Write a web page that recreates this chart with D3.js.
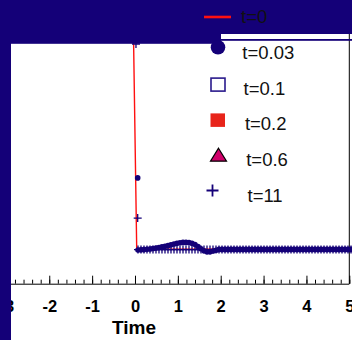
<!DOCTYPE html>
<html>
<head>
<meta charset="utf-8">
<script src="https://cdn.jsdelivr.net/npm/d3@7"></script>
<style>
  html, body { margin: 0; padding: 0; background: #fff; }
  svg { display: block; }
</style>
</head>
<body>
<div id="chart"></div>
<script>
// time grid the dense series were sampled on
const gridTimes = [
  0.07,0.14,0.21,0.28,0.35,0.42,0.49,0.56,0.63,0.70,
  0.77,0.84,0.91,0.98,1.05,1.12,1.19,1.26,1.33,1.40,
  1.47,1.54,1.61,1.68,1.75,1.82,1.89,1.96,2.03,2.10,
  2.17,2.24,2.31,2.38,2.45,2.52,2.59,2.66,2.73,2.80,
  2.87,2.94,3.01,3.08,3.15,3.22,3.29,3.36,3.43,3.50,
  3.57,3.64,3.71,3.78,3.85,3.92,3.99,4.06,4.13,4.20,
  4.27,4.34,4.41,4.48,4.55,4.62,4.69,4.76,4.83,4.90,
  4.97,5.04
];

const t0Times = [-0.05, 0.04, 0.1, 5.1];
const t0Values = [1.25, 0.01, 0.004, 0.005];

const t003Times = [0.063].concat(gridTimes);
const t003Values = [
  0.35,
  0.000,0.001,0.002,0.004,0.005,0.007,0.010,0.012,0.015,0.018,
  0.021,0.025,0.029,0.033,0.035,0.037,0.037,0.036,0.033,0.027,
  0.017,0.006,-0.004,-0.009,-0.009,-0.005,-0.001,0.003,0.003,0.003,
  0.003,0.003,0.003,0.003,0.003,0.003,0.003,0.003,0.003,0.003,
  0.003,0.003,0.003,0.003,0.003,0.003,0.003,0.003,0.003,0.003,
  0.003,0.003,0.003,0.003,0.003,0.003,0.003,0.003,0.003,0.003,
  0.003,0.003,0.003,0.003,0.003,0.003,0.003,0.003,0.003,0.003,
  0.003,0.003
];

// t=0.1, 0.2, 0.6 have no marks showing in the plot
const t01Times = [], t01Values = [];
const t02Times = [], t02Values = [];
const t06Times = [], t06Values = [];

const t11Times = [0.023, 0.063].concat(gridTimes);
const t11Values = [
  1.0, 0.155,
  0.002,0.002,0.002,0.002,0.002,0.002,0.002,0.002,0.002,0.002,
  0.002,0.002,0.002,0.002,0.002,0.002,0.002,0.002,0.002,0.002,
  0.002,0.002,0.002,0.002,0.002,0.002,0.002,0.002,0.002,0.002,
  0.002,0.002,0.002,0.002,0.002,0.002,0.002,0.002,0.002,0.002,
  0.002,0.002,0.002,0.002,0.002,0.002,0.002,0.002,0.002,0.002,
  0.002,0.002,0.002,0.002,0.002,0.002,0.002,0.002,0.002,0.002,
  0.002,0.002,0.002,0.002,0.002,0.002,0.002,0.002,0.002,0.002,
  0.002,0.002
];

const legendLabels = ["t=0", "t=0.03", "t=0.1", "t=0.2", "t=0.6", "t=11"];
const xLabel = "Time";

const navy = "#140078";
const width = 352, height = 340;

const svg = d3.select("#chart").append("svg")
    .attr("width", width)
    .attr("height", height);

const x = d3.scaleLinear().domain([-3, 5]).range([6.4, 349.3]);
const y = d3.scaleLinear().domain([0, 1]).range([250, 44]);

const pts = (ts, vs) => ts.map((t, i) => ({t: t, v: vs[i]}));

// minor ticks
svg.append("g")
    .attr("transform", "translate(0,283.7)")
    .call(d3.axisBottom(x).tickValues(d3.range(-3, 5.01, 0.2)).tickSize(-4).tickFormat(""))
    .call(g => g.select(".domain").remove())
    .call(g => g.selectAll("line").attr("stroke", "#000"));

// major ticks + labels
const xAxis = svg.append("g")
    .attr("transform", "translate(0,283.7)")
    .call(d3.axisBottom(x).ticks(8).tickSize(-8).tickSizeOuter(0).tickPadding(16.5).tickFormat(d3.format("d")));
xAxis.select(".domain").attr("stroke", "#000").attr("d", "M11,0.5H349.3");
xAxis.selectAll("line").attr("stroke", "#000");
xAxis.selectAll("text")
    .attr("fill", "#000")
    .style("font-family", "'Liberation Sans', Arial, sans-serif")
    .style("font-weight", "bold")
    .style("font-size", "16.5px")
    .text(d => d < 0 ? "-" + Math.abs(d) : d);

svg.append("text")
    .attr("x", 134)
    .attr("y", 334)
    .attr("text-anchor", "middle")
    .style("font-family", "'Liberation Sans', Arial, sans-serif")
    .style("font-weight", "bold")
    .style("font-size", "19px")
    .text(xLabel);

// right border
svg.append("line")
    .attr("x1", 349.3).attr("x2", 349.3)
    .attr("y1", 34).attr("y2", 284)
    .attr("stroke", "#000").attr("stroke-width", 1);

// t=0 line
svg.append("path")
    .datum(pts(t0Times, t0Values))
    .attr("fill", "none")
    .attr("stroke", "#ff1010")
    .attr("stroke-width", 1.4)
    .attr("d", d3.line().x(d => x(d.t)).y(d => y(d.v)));

// t=0.03 circles
svg.append("g").selectAll("circle")
    .data(pts(t003Times, t003Values))
    .join("circle")
    .attr("cx", d => x(d.t))
    .attr("cy", d => y(d.v))
    .attr("r", 2.8)
    .attr("fill", navy);

// t=0.1 open squares
svg.append("g").selectAll("rect")
    .data(pts(t01Times, t01Values))
    .join("rect")
    .attr("x", d => x(d.t) - 3).attr("y", d => y(d.v) - 3)
    .attr("width", 6).attr("height", 6)
    .attr("fill", "#fff").attr("stroke", "#2a1a8c");

// t=0.2 filled squares
svg.append("g").selectAll("rect")
    .data(pts(t02Times, t02Values))
    .join("rect")
    .attr("x", d => x(d.t) - 3).attr("y", d => y(d.v) - 3)
    .attr("width", 6).attr("height", 6)
    .attr("fill", "#e8241a");

// t=0.6 triangles
svg.append("g").selectAll("path")
    .data(pts(t06Times, t06Values))
    .join("path")
    .attr("transform", d => `translate(${x(d.t)},${y(d.v)})`)
    .attr("d", d3.symbol(d3.symbolTriangle, 30))
    .attr("fill", "#d0006a").attr("stroke", "#000");

// t=11 plus markers
svg.append("g").selectAll("path")
    .data(pts(t11Times, t11Values))
    .join("path")
    .attr("d", d => `M${x(d.t) - 4},${y(d.v)}H${x(d.t) + 4}M${x(d.t)},${y(d.v) - 4}V${y(d.v) + 4}`)
    .attr("stroke", navy)
    .attr("stroke-width", 1.3)
    .attr("fill", "none");

// navy bands covering the top and left edge
svg.append("rect").attr("x", 0).attr("y", 0).attr("width", 221).attr("height", 43.8).attr("fill", navy);
svg.append("rect").attr("x", 221).attr("y", 0).attr("width", 131).attr("height", 34).attr("fill", navy);
svg.append("rect").attr("x", 221).attr("y", 39).attr("width", 131).attr("height", 1.8).attr("fill", navy);
svg.append("rect").attr("x", 0).attr("y", 0).attr("width", 11).attr("height", height).attr("fill", navy);

// legend
const legend = svg.append("g")
    .style("font-family", "'Liberation Sans', Arial, sans-serif")
    .style("font-size", "18.5px");

legendLabels.forEach((label, i) => {
    const base = 23 + i * 35.8;
    const sy = base - 10;
    if (i === 0) {
        legend.append("line")
            .attr("x1", 204).attr("x2", 231)
            .attr("y1", base - 6).attr("y2", base - 6)
            .attr("stroke", "#ff1010").attr("stroke-width", 2.6);
    } else if (i === 1) {
        legend.append("circle").attr("cx", 218).attr("cy", sy - 1.5).attr("r", 7.3).attr("fill", navy);
    } else if (i === 2) {
        legend.append("rect").attr("x", 211).attr("y", sy - 6.5).attr("width", 14).attr("height", 13)
            .attr("fill", "#fff").attr("stroke", "#2a1a8c").attr("stroke-width", 1.6);
    } else if (i === 3) {
        legend.append("rect").attr("x", 210.5).attr("y", sy - 7).attr("width", 14.5).attr("height", 13.5)
            .attr("fill", "#e8241a");
    } else if (i === 4) {
        legend.append("path")
            .attr("d", `M218.5,${sy - 8}L226.5,${sy + 5}L210.5,${sy + 5}Z`)
            .attr("fill", "#d0006a").attr("stroke", "#000").attr("stroke-width", 1.2);
    } else {
        legend.append("path")
            .attr("d", `M206.5,${sy - 1.5}H218.5M212.5,${sy - 7.5}V${sy + 4.5}`)
            .attr("stroke", navy).attr("stroke-width", 1.8);
    }
    legend.append("text")
        .attr("x", 241 + i * 1.3)
        .attr("y", base)
        .attr("fill", "#111")
        .text(label);
});
</script>
</body>
</html>
